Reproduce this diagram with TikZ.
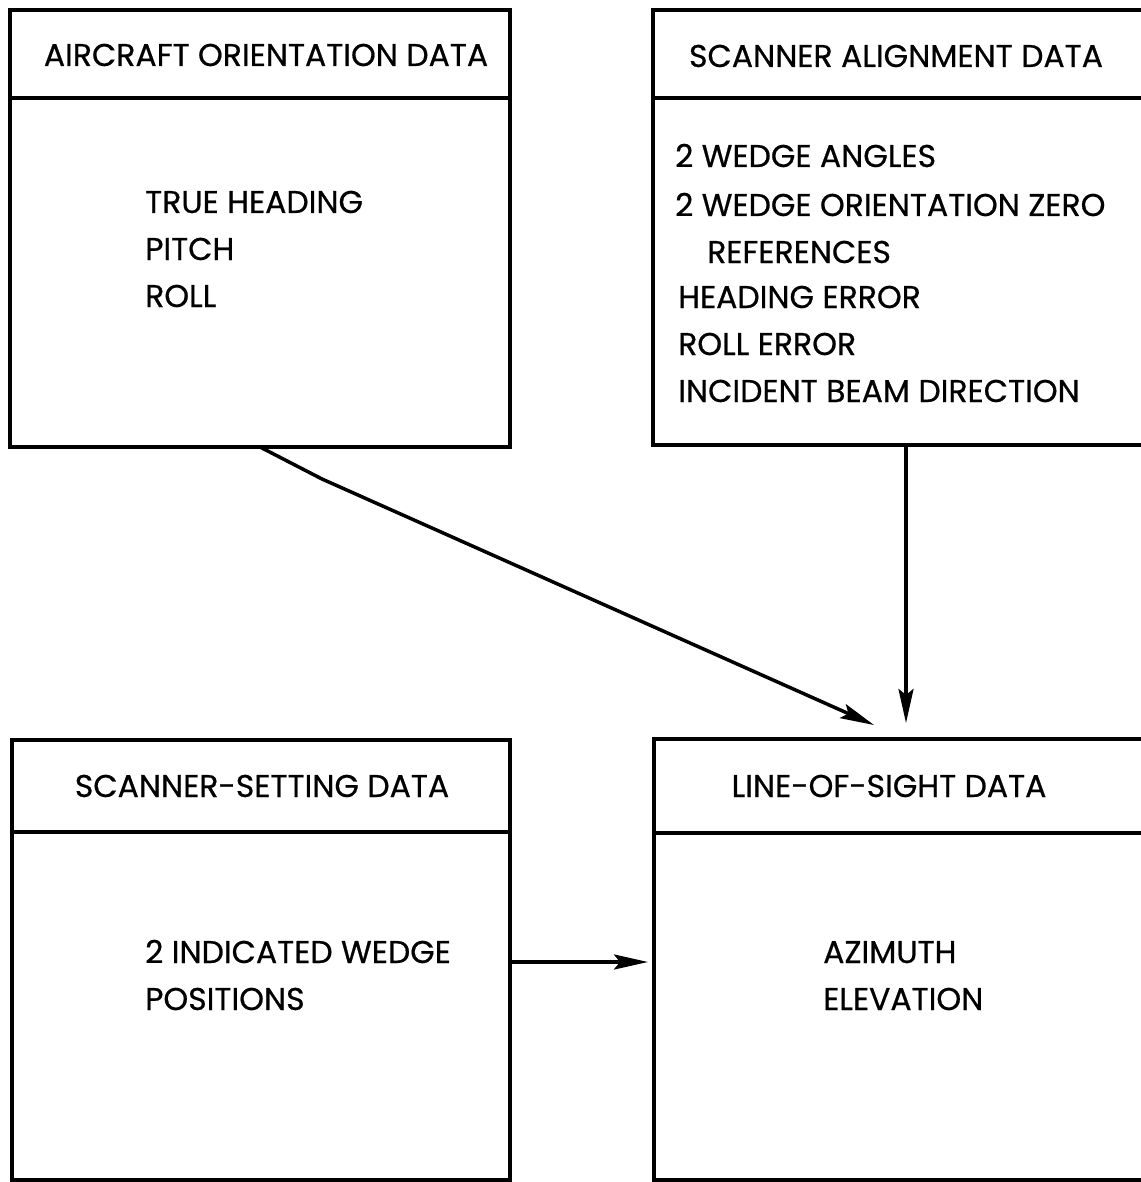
\documentclass[tikz,border=0pt]{standalone}
\usepackage{fontspec}
\setmainfont{Poppins}[FakeBold=0.6]
\usetikzlibrary{arrows.meta}
\begin{document}
\begin{tikzpicture}[x=1pt,y=-1pt,
  box/.style={draw, line width=4.5pt, anchor=north west, inner sep=0pt, outer sep=0pt},
  sepline/.style={line width=4.5pt},
  lbl/.style={inner sep=0pt, font=\fontsize{31.5}{38}\selectfont},
  hdr/.style={lbl, anchor=base},
  itm/.style={lbl, anchor=base west},
  conn/.style={line width=3.5pt, line join=round, -{Stealth[length=34pt,width=15pt,inset=6pt]}},
]
\useasboundingbox (0,0) rectangle (1140,1182);
% boxes
\node[box, minimum width=500pt, minimum height=437pt] (aod) at (10,10) {};
\node[box, minimum width=520pt, minimum height=435pt] (sad) at (653,10) {};
\node[box, minimum width=498pt, minimum height=440pt] (ssd) at (12,740) {};
\node[box, minimum width=520pt, minimum height=441pt] (los) at (654,739) {};
% header separators
\draw[sepline] (10,98) -- (510,98);
\draw[sepline] (653,98) -- (1160,98);
\draw[sepline] (12,832) -- (510,832);
\draw[sepline] (654,833) -- (1160,833);
% headers
\node[hdr] (h1) at (266,66) {AIRCRAFT ORIENTATION DATA};
\node[hdr] (h2) at (896,67) {SCANNER ALIGNMENT DATA};
\node[hdr] (h3) at (262,797) {SCANNER-SETTING DATA};
\node[hdr] (h4) at (889,797) {LINE-OF-SIGHT DATA};
% items
\node[itm] (a1) at (145,213) {TRUE HEADING};
\node[itm] (a2) at (145,260) {PITCH};
\node[itm] (a3) at (145,307) {ROLL};
\node[itm] (s1) at (675,167) {2 WEDGE ANGLES};
\node[itm] (s2) at (675,216) {2 WEDGE ORIENTATION ZERO};
\node[itm] (s3) at (707,263) {REFERENCES};
\node[itm] (s4) at (678,308) {HEADING ERROR};
\node[itm] (s5) at (678,355) {ROLL ERROR};
\node[itm] (s6) at (678,402) {INCIDENT BEAM DIRECTION};
\node[itm] (w1) at (145,963) {2 INDICATED WEDGE};
\node[itm] (w2) at (145,1010) {POSITIONS};
\node[itm] (l1) at (823,963) {AZIMUTH};
\node[itm] (l2) at (823,1010) {ELEVATION};
% connectors
\coordinate (k1) at (322,479);
\coordinate (t1) at (874,725);
\coordinate (t2) at (906,723);
\coordinate (t3) at (648,962);
\draw[conn] (aod.south) -- (k1) -- (t1);
\draw[conn] (sad.south -| t2) -- (t2);
\draw[conn] (ssd.east |- t3) -- (t3);
\end{tikzpicture}
\end{document}
